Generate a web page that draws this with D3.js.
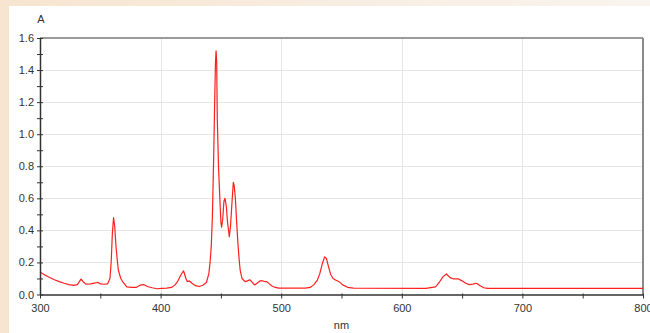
<!DOCTYPE html>
<html>
<head>
<meta charset="utf-8">
<script src="https://cdn.jsdelivr.net/npm/d3@7"></script>
<style>
  html, body { margin: 0; padding: 0; }
  body { width: 650px; height: 333px; overflow: hidden; }
  text { font-family: "Liberation Sans", Arial, sans-serif; }
</style>
</head>
<body>
<svg id="chart" width="650" height="333"></svg>
<script>
// Absorbance spectrum: wavelength (nm) and absorbance (A)
const wavelengths = [
  300, 304, 308, 312, 316, 320, 324, 328, 331, 334, 336, 338, 342, 346, 348, 350, 353, 356, 358, 359,
  360, 361, 362, 363, 364, 365, 367, 369, 372, 376, 380, 383, 386, 389, 393, 397, 401, 405, 409, 412,
  414, 417, 419, 421, 422, 424, 426, 429, 432, 435, 438, 440, 441, 442, 443, 444, 444.7, 445.5, 446, 446.5,
  447, 448, 449, 450, 450.6, 451.5, 452.5, 453.4, 454.5, 455.5, 457, 458, 459, 460.3, 461, 462, 463, 464,
  465, 466, 467.5, 470, 472, 474, 476, 478, 480, 482, 484, 486, 488, 490, 492, 495, 498, 520, 524, 527,
  530, 532, 534, 536, 537.5, 539, 541, 543, 545, 548, 551, 555, 560, 620, 625, 628, 631, 634, 637, 640,
  643, 647, 650, 653, 656, 659, 662, 665, 668, 671, 800
];
const absorbance = [
  0.140, 0.122, 0.106, 0.092, 0.080, 0.070, 0.062, 0.057, 0.062, 0.096, 0.078, 0.065, 0.066, 0.072, 0.076, 0.066, 0.064, 0.066, 0.100, 0.200,
  0.380, 0.480, 0.420, 0.300, 0.220, 0.150, 0.100, 0.075, 0.048, 0.044, 0.045, 0.058, 0.062, 0.050, 0.042, 0.036, 0.038, 0.040, 0.044, 0.060,
  0.080, 0.125, 0.148, 0.100, 0.082, 0.084, 0.070, 0.055, 0.050, 0.058, 0.075, 0.130, 0.200, 0.300, 0.500, 0.850, 1.150, 1.450, 1.520, 1.450,
  1.100, 0.800, 0.620, 0.450, 0.420, 0.470, 0.580, 0.600, 0.550, 0.450, 0.360, 0.430, 0.550, 0.700, 0.680, 0.600, 0.460, 0.330,
  0.230, 0.150, 0.100, 0.080, 0.085, 0.092, 0.075, 0.060, 0.070, 0.083, 0.086, 0.082, 0.080, 0.068, 0.055, 0.044, 0.040, 0.040, 0.044, 0.060,
  0.090, 0.130, 0.190, 0.235, 0.225, 0.180, 0.125, 0.100, 0.090, 0.080, 0.060, 0.045, 0.040, 0.038, 0.045, 0.048, 0.075, 0.110, 0.128, 0.105,
  0.097, 0.097, 0.085, 0.070, 0.062, 0.065, 0.070, 0.055, 0.042, 0.038, 0.038
];

// Axis ticks
const xMajorTicks = [300, 400, 500, 600, 700, 800];
const xMinorTicks = [350, 450, 550, 650, 750];
const yMajorTicks = [0.0, 0.2, 0.4, 0.6, 0.8, 1.0, 1.2, 1.4, 1.6];
const yMinorTicks = [0.1, 0.3, 0.5, 0.7, 0.9, 1.1, 1.3, 1.5];

const xTitle = "nm";
const yTitle = "A";

const spectrum = wavelengths.map((w, i) => ({ w, a: absorbance[i] }));

const svg = d3.select("#chart");

// Page backdrop with a warm tinted frame on the top and left
const defs = svg.append("defs");
const grad = defs.append("linearGradient").attr("id", "frameGrad")
  .attr("x1", "0%").attr("y1", "0%").attr("x2", "100%").attr("y2", "0%");
grad.append("stop").attr("offset", "0%").attr("stop-color", "#f6e4cf");
grad.append("stop").attr("offset", "50%").attr("stop-color", "#f8ede1");
grad.append("stop").attr("offset", "100%").attr("stop-color", "#f9f4ee");
svg.append("rect").attr("width", 650).attr("height", 333).attr("fill", "url(#frameGrad)");
svg.append("rect").attr("x", 9).attr("y", 6).attr("width", 641).attr("height", 327).attr("fill", "#ffffff");

const plot = { left: 40, right: 643, top: 38, bottom: 294.5 };

const x = d3.scaleLinear().domain([300, 800]).range([plot.left, plot.right]);
const y = d3.scaleLinear().domain([0, 1.6]).range([plot.bottom, plot.top]);

// Grid lines
const grid = svg.append("g").attr("stroke", "#e6e6e6").attr("stroke-width", 1);
grid.selectAll("line.gx").data(xMajorTicks.slice(1, -1)).join("line")
  .attr("class", "gx")
  .attr("x1", d => Math.round(x(d)) + 0.5).attr("x2", d => Math.round(x(d)) + 0.5)
  .attr("y1", plot.top).attr("y2", plot.bottom);
grid.selectAll("line.gy").data(yMajorTicks.slice(1, -1)).join("line")
  .attr("class", "gy")
  .attr("y1", d => Math.round(y(d)) + 0.5).attr("y2", d => Math.round(y(d)) + 0.5)
  .attr("x1", plot.left).attr("x2", plot.right);

// Frame: top and right edges
svg.append("line").attr("x1", plot.left).attr("x2", plot.right)
  .attr("y1", plot.top).attr("y2", plot.top)
  .attr("stroke", "#7a7a7a").attr("stroke-width", 1.5);
svg.append("line").attr("x1", plot.right).attr("x2", plot.right)
  .attr("y1", plot.top).attr("y2", plot.bottom)
  .attr("stroke", "#8a8a8a").attr("stroke-width", 2);

// Spectrum line
const line = d3.line().x(d => x(d.w)).y(d => y(d.a));
svg.append("path").datum(spectrum)
  .attr("d", line)
  .attr("fill", "none")
  .attr("stroke", "#ff1f1f")
  .attr("stroke-width", 1.2)
  .attr("stroke-linejoin", "round");

// Bottom axis
const xAxis = d3.axisBottom(x).tickValues(xMajorTicks).tickFormat(d3.format("d"))
  .tickSizeInner(4).tickSizeOuter(0).tickPadding(6);
const gx = svg.append("g").attr("transform", `translate(0,${plot.bottom})`).call(xAxis);
gx.select(".domain").attr("stroke", "#333").attr("stroke-width", 1.5);
gx.selectAll(".tick line").attr("stroke", "#333").attr("y1", -1);
gx.selectAll(".tick text").attr("fill", "#333").style("font-size", "11px");
const xMinor = d3.axisBottom(x).tickValues(xMinorTicks).tickFormat("").tickSizeInner(4).tickSizeOuter(0);
const gxm = svg.append("g").attr("transform", `translate(0,${plot.bottom})`).call(xMinor);
gxm.select(".domain").remove();
gxm.selectAll(".tick line").attr("stroke", "#333").attr("y1", -1);

// Left axis
const yAxis = d3.axisLeft(y).tickValues(yMajorTicks).tickFormat(d3.format(".1f"))
  .tickSizeInner(3).tickSizeOuter(0).tickPadding(3);
const gy = svg.append("g").attr("transform", `translate(${plot.left},0)`).call(yAxis);
gy.select(".domain").attr("stroke", "#333").attr("stroke-width", 1.5);
gy.selectAll(".tick line").attr("stroke", "#333").attr("x1", 3);
gy.selectAll(".tick text").attr("fill", "#333").style("font-size", "11px");
const yMinor = d3.axisLeft(y).tickValues(yMinorTicks).tickFormat("").tickSizeInner(3).tickSizeOuter(0);
const gym = svg.append("g").attr("transform", `translate(${plot.left},0)`).call(yMinor);
gym.select(".domain").remove();
gym.selectAll(".tick line").attr("stroke", "#333").attr("x1", 3);

// Axis titles
svg.append("text").attr("x", x(550)).attr("y", 329)
  .attr("text-anchor", "middle").attr("fill", "#333").style("font-size", "11px").text(xTitle);
svg.append("text").attr("x", 41).attr("y", 23)
  .attr("text-anchor", "middle").attr("fill", "#333").style("font-size", "11px").text(yTitle);
</script>
</body>
</html>
